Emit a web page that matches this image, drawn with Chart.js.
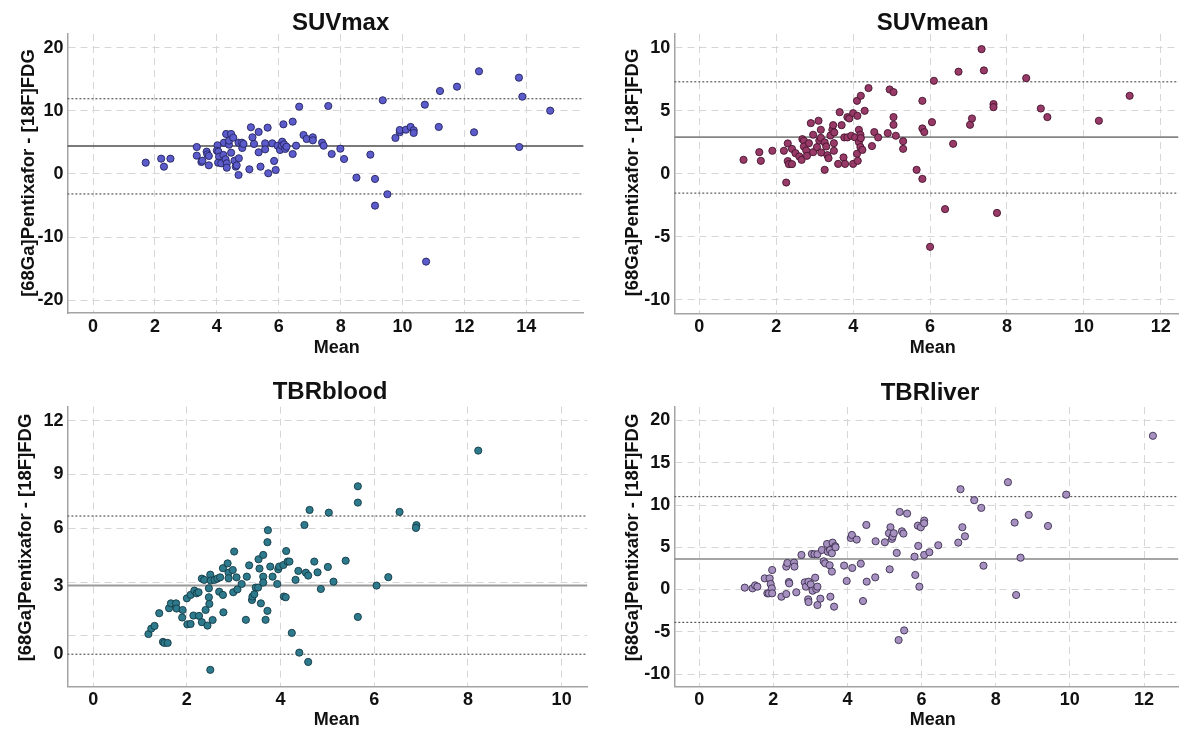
<!DOCTYPE html>
<html><head><meta charset="utf-8">
<script src="https://cdn.jsdelivr.net/npm/chart.js@4.4.1/dist/chart.umd.min.js"></script>
<style>
html,body{margin:0;padding:0;background:#fff;overflow:hidden;width:1183px;height:731px;}
canvas{position:absolute;}
</style></head><body>
<canvas id="c1" width="600" height="365" style="left:0;top:0"></canvas>
<canvas id="c2" width="583" height="365" style="left:600px;top:0"></canvas>
<canvas id="c3" width="600" height="366" style="left:0;top:365px"></canvas>
<canvas id="c4" width="583" height="366" style="left:600px;top:365px"></canvas>
<script>
// ---------- DATA ----------
const yTitleText = "[68Ga]Pentixafor - [18F]FDG";
const xTitleText = "Mean";

// SUVmax
const suvmaxMean = [1.70,2.20,2.29,2.50,3.35,3.35,3.50,3.53,3.67,3.69,3.74,3.74,4.02,4.00,4.05,4.07,4.04,4.14,4.23,4.21,4.28,4.30,4.32,4.32,4.39,4.39,4.46,4.46,4.53,4.57,4.61,4.70,4.70,4.71,4.64,4.81,4.82,4.86,5.05,5.10,5.15,5.20,5.35,5.35,5.41,5.56,5.56,5.64,5.66,5.79,5.85,5.90,5.96,6.04,6.11,6.10,6.15,6.17,6.21,6.25,6.45,6.45,6.56,6.66,6.80,6.90,7.10,7.10,7.40,7.45,7.60,7.71,7.99,8.11,8.51,8.96,9.11,9.11,9.36,9.51,9.77,9.91,9.91,10.11,10.26,10.36,10.36,10.72,10.76,11.17,11.21,11.76,12.31,12.47,13.76,13.77,13.87,14.77];
const suvmaxDiff = [1.79,2.42,1.16,2.42,4.27,2.90,1.90,2.10,3.53,3.11,2.85,1.37,4.54,3.69,3.53,2.74,1.79,1.69,4.95,3.01,2.32,6.33,1.69,1.00,4.64,5.27,6.33,3.37,5.74,2.10,1.16,4.95,-0.16,2.48,1.37,4.95,4.11,4.75,0.74,7.39,5.80,4.75,6.65,3.43,1.16,4.85,3.90,7.33,0.11,4.85,2.06,0.63,4.48,3.80,5.11,4.48,7.86,4.69,3.96,4.32,8.28,3.16,4.48,10.65,6.17,5.54,5.80,5.33,4.95,4.48,10.76,3.16,4.00,2.37,-0.58,3.06,-0.79,-5.01,11.66,-3.21,5.70,6.60,6.96,7.01,7.44,6.91,6.49,10.97,-13.87,7.44,13.13,13.81,6.60,16.25,15.24,4.27,12.23,10.02];
const suvmaxRefLines = [4.43, 11.91, -3.16];   // mean, upper LoA, lower LoA
const suvmaxXTicks = [0,2,4,6,8,10,12,14];
const suvmaxYTicks = [-20,-10,0,10,20];

// SUVmean
const suvmeanMean = [1.15,1.56,1.60,1.90,2.20,2.26,2.30,2.30,2.33,2.41,2.41,2.50,2.60,2.66,2.68,2.72,2.72,2.78,2.80,2.85,2.90,2.96,2.96,3.06,3.10,3.12,3.16,3.16,3.17,3.26,3.26,3.30,3.33,3.36,3.41,3.46,3.48,3.50,3.50,3.51,3.61,3.65,3.70,3.75,3.77,3.79,3.85,3.90,3.85,3.95,4.00,4.00,4.05,4.10,4.11,4.10,4.12,4.15,4.15,4.19,4.20,4.20,4.19,4.24,4.30,4.40,4.49,4.55,4.65,4.90,4.95,5.05,5.05,5.05,5.11,5.30,5.30,5.65,5.80,5.80,5.80,5.85,6.05,6.10,6.00,6.39,6.60,6.74,7.04,7.09,7.34,7.40,7.65,7.65,7.74,8.50,8.88,9.05,10.39,11.19];
const suvmeanDiff = [1.11,1.72,1.03,1.83,1.83,-0.69,2.41,1.01,0.77,0.77,1.98,1.64,1.38,1.11,2.75,2.62,2.17,1.85,1.43,2.43,4.02,3.10,1.72,2.12,4.21,2.64,3.49,2.86,1.69,0.32,2.49,2.17,1.48,1.24,3.04,3.49,3.86,2.43,1.83,3.28,0.79,4.89,3.86,1.30,2.89,0.79,4.50,4.39,2.89,3.02,0.79,4.81,2.89,5.79,4.60,1.59,1.03,3.49,2.51,3.10,6.19,2.83,2.12,1.90,5.00,6.80,2.20,3.31,2.89,3.23,6.69,6.48,4.50,3.89,3.02,2.59,1.98,0.32,5.79,3.60,-0.40,3.31,4.10,7.38,-5.79,-2.80,2.38,8.10,3.89,4.39,9.89,8.20,5.53,5.29,-3.10,7.59,5.18,4.50,4.21,6.19];
const suvmeanRefLines = [2.91, 7.30, -1.53];
const suvmeanXTicks = [0,2,4,6,8,10,12];
const suvmeanYTicks = [-10,-5,0,5,10];

// TBRblood
const tbrbloodMean = [1.18,1.24,1.31,1.41,1.49,1.52,1.59,1.62,1.66,1.77,1.78,1.91,1.90,2.00,2.01,2.08,2.08,2.14,2.16,2.21,2.25,2.26,2.32,2.32,2.37,2.40,2.44,2.47,2.47,2.48,2.50,2.51,2.50,2.55,2.59,2.65,2.69,2.71,2.77,2.77,2.78,2.87,2.89,2.89,2.98,2.99,3.01,3.06,3.08,3.17,3.26,3.28,3.33,3.39,3.40,3.44,3.47,3.52,3.53,3.55,3.58,3.63,3.63,3.63,3.68,3.72,3.73,3.72,3.78,3.83,3.93,3.95,3.97,4.06,4.07,4.11,4.12,4.15,4.19,4.24,4.32,4.38,4.40,4.51,4.54,4.59,4.59,4.62,4.72,4.79,4.86,5.01,5.03,5.13,5.65,5.65,6.54,6.90,6.89,8.22,5.39,6.30,5.65,6.05];
const tbrbloodDiff = [0.10,0.40,0.55,1.26,-0.34,-0.40,-0.40,1.54,1.81,1.81,1.52,1.44,1.02,2.09,0.64,0.66,2.28,1.13,2.52,2.37,2.43,1.11,0.76,3.19,3.12,1.44,0.57,2.65,2.15,1.78,3.41,3.08,-1.90,0.88,3.12,3.19,2.46,3.26,2.28,3.77,1.31,4.04,3.52,3.21,3.67,2.43,4.70,3.26,2.59,2.89,0.89,3.30,3.93,2.00,2.19,2.32,2.69,2.69,4.27,3.75,1.81,4.51,3.30,2.97,0.89,5.22,5.89,1.39,3.86,3.30,2.89,3.71,3.86,3.95,2.19,2.15,4.73,4.14,4.14,0.16,3.12,3.62,-0.94,6.18,3.52,3.36,-1.46,7.02,4.14,3.54,2.61,3.84,6.87,3.02,8.34,7.43,6.91,6.17,6.02,10.33,4.19,3.27,1.05,2.80];
const tbrbloodRefLines = [2.80, 6.68, -1.03];
const tbrbloodXTicks = [0,2,4,6,8,10];
const tbrbloodYGridTicks = [0,3,6,9,12];
const tbrbloodYLabelTicks = [-1.03,2.8,6,9,12];
const tbrbloodYLabels = ["0","3","6","9","12"];

// TBRliver
const tbrliverMean = [1.23,1.44,1.51,1.57,1.77,1.84,1.88,1.90,1.93,1.96,1.97,1.97,2.22,2.35,2.35,2.38,2.42,2.43,2.56,2.57,2.62,2.76,2.85,2.88,2.94,2.95,2.95,3.01,3.04,3.06,3.13,3.11,3.16,3.19,3.19,3.19,3.27,3.31,3.36,3.40,3.45,3.47,3.52,3.53,3.54,3.58,3.58,3.60,3.64,3.67,3.68,3.91,3.98,4.09,4.12,4.13,4.25,4.36,4.42,4.51,4.52,4.75,4.76,5.01,5.14,5.16,5.12,5.20,5.22,5.25,5.33,5.38,5.41,5.47,5.51,5.53,5.61,5.81,5.83,5.90,5.91,5.94,5.98,6.07,6.07,6.07,6.21,6.45,6.99,7.10,7.05,7.17,7.42,7.61,7.67,8.33,8.51,8.55,8.67,8.89,9.41,9.90,12.24];
const tbrliverDiff = [0.22,0.14,0.49,0.34,1.32,-0.45,-0.45,1.32,0.65,0.14,-0.45,2.31,-0.85,-0.53,2.71,3.14,0.89,0.73,3.18,2.71,-0.33,4.09,0.85,0.34,-1.16,-1.48,0.93,0.61,4.21,-0.14,1.40,4.17,0.06,-1.84,0.34,4.17,-1.08,4.68,3.34,3.10,5.39,4.48,2.87,4.68,-0.85,2.12,4.29,5.55,-2.03,5.12,5.00,2.83,1.01,6.10,6.46,2.55,5.91,3.06,-1.36,7.64,0.93,1.44,5.71,5.59,2.39,7.37,6.66,5.99,6.26,6.66,4.33,-5.98,9.18,6.89,6.62,-4.84,8.99,3.89,1.72,7.56,5.16,0.34,7.37,8.16,7.84,4.09,4.41,5.24,5.55,7.37,11.87,6.30,10.57,9.66,2.82,12.70,7.92,-0.65,3.77,8.83,7.52,11.23,18.19];
const tbrliverRefLines = [3.61, 11.0, -3.89];
const tbrliverXTicks = [0,2,4,6,8,10,12];
const tbrliverYTicks = [-10,-5,0,5,10,15,20];

// ---------- STYLE / RENDER ----------
const FONT = '"Liberation Sans", Arial, Helvetica, sans-serif';
const GRID = '#d6d6d6';
const AXIS = '#a3a3a3';
const TXT = '#111111';

const panelText = {
  id: 'panelText',
  afterDraw(chart, args, o) {
    const ctx = chart.ctx;
    ctx.save();
    ctx.fillStyle = TXT;
    ctx.textAlign = 'center';
    ctx.textBaseline = 'middle';
    ctx.font = 'bold 24px ' + FONT;
    ctx.fillText(o.title, o.titleX, o.titleY);
    ctx.font = 'bold 18px ' + FONT;
    ctx.fillText(o.xTitle, o.xTitleX, o.xTitleY);
    ctx.translate(o.yTitleX, o.yTitleY);
    ctx.rotate(-Math.PI / 2);
    ctx.font = 'bold 18.5px ' + FONT;
    ctx.fillText(o.yTitle, 0, 0);
    ctx.restore();
  }
};

function refLine(p, v, color, width, dash) {
  return { type: 'line', data: [{x: p.xMin, y: v}, {x: p.xMax, y: v}],
    borderColor: color, borderWidth: width, borderDash: dash, pointRadius: 0, fill: false };
}

function panel(id, p) {
  const yGrid = p.yGrid;
  const yLab = p.yLabelTicks;
  const allY = Array.from(new Set(yGrid.concat(yLab))).sort((a, b) => a - b);
  const tickFont = {family: FONT, size: 18, weight: 'bold'};
  new Chart(document.getElementById(id), {
    type: 'scatter',
    data: { datasets: [
      { data: p.xs.map((x, i) => ({x: x, y: p.ys[i]})), backgroundColor: p.fill, borderColor: p.edge,
        borderWidth: 0.9, pointRadius: 3.6, pointHoverRadius: 3.6, showLine: false },
      refLine(p, p.lines[0], p.meanColor, p.meanWidth, []),
      refLine(p, p.lines[1], '#5a5a5a', 1.2, [2, 2]),
      refLine(p, p.lines[2], '#5a5a5a', 1.2, [2, 2])
    ]},
    options: {
      responsive: false, animation: false, events: [],
      layout: {padding: {left: 0, top: p.top, right: p.right, bottom: 0}},
      plugins: {
        legend: {display: false}, tooltip: {enabled: false},
        panelText: {title: p.title, titleX: p.titleX, titleY: p.titleY,
          xTitle: xTitleText, xTitleX: p.xTitleX, xTitleY: p.xTitleY,
          yTitle: yTitleText, yTitleX: p.yTitleX, yTitleY: p.yTitleY}
      },
      scales: {
        x: { type: 'linear', position: 'bottom', min: p.xMin, max: p.xMax,
          afterBuildTicks: s => { s.ticks = p.xTicks.map(v => ({value: v})); },
          afterFit: s => { s.height = p.xAxisH; },
          grid: {color: GRID, lineWidth: 1, drawTicks: false},
          border: {display: true, color: AXIS, width: 1.5, dash: [7, 5]},
          ticks: {padding: 3, color: TXT, font: tickFont, autoSkip: false, maxRotation: 0, callback: v => String(v)} },
        y: { type: 'linear', position: 'left', min: p.yMin, max: p.yMax,
          afterBuildTicks: s => { s.ticks = allY.map(v => ({value: v})); },
          afterFit: s => { s.width = p.yAxisW; },
          grid: {color: c => (c.tick && yGrid.indexOf(c.tick.value) >= 0) ? GRID : 'rgba(0,0,0,0)', lineWidth: 1, drawTicks: false},
          border: {display: true, color: AXIS, width: 1.5, dash: [7, 5]},
          ticks: {padding: 4, color: TXT, font: tickFont, autoSkip: false,
            callback: v => { const k = yLab.indexOf(v); return k >= 0 ? p.yLabels[k] : ''; }} }
      }
    },
    plugins: [panelText]
  });
}

panel('c1', {
  title: 'SUVmax', xs: suvmaxMean, ys: suvmaxDiff, lines: suvmaxRefLines,
  xTicks: suvmaxXTicks, yGrid: suvmaxYTicks, yLabelTicks: suvmaxYTicks, yLabels: suvmaxYTicks.map(String),
  xMin: -0.83, xMax: 15.85, yMin: -22.0, yMax: 22.15,
  top: 34, right: 16.4, xAxisH: 52, yAxisW: 67.4,
  fill: '#5b5bcc', edge: '#25255e', meanColor: '#4e4e4e', meanWidth: 1.3,
  titleX: 340.6, titleY: 23.5, xTitleX: 336.8, xTitleY: 348.3, yTitleX: 28.7, yTitleY: 173
});
panel('c2', {
  title: 'SUVmean', xs: suvmeanMean, ys: suvmeanDiff, lines: suvmeanRefLines,
  xTicks: suvmeanXTicks, yGrid: suvmeanYTicks, yLabelTicks: suvmeanYTicks, yLabels: suvmeanYTicks.map(String),
  xMin: -0.65, xMax: 12.46, yMin: -11.06, yMax: 11.09,
  top: 34, right: 0, xAxisH: 51.7, yAxisW: 74.3,
  fill: '#983a68', edge: '#45142d', meanColor: '#858585', meanWidth: 1.8,
  titleX: 332.7, titleY: 23.5, xTitleX: 332.7, xTitleY: 348, yTitleX: 32.5, yTitleY: 172.5
});
panel('c3', {
  title: 'TBRblood', xs: tbrbloodMean, ys: tbrbloodDiff, lines: tbrbloodRefLines,
  xTicks: tbrbloodXTicks, yGrid: tbrbloodYGridTicks, yLabelTicks: tbrbloodYLabelTicks, yLabels: tbrbloodYLabels,
  xMin: -0.55, xMax: 10.55, yMin: -2.84, yMax: 12.78,
  top: 41.7, right: 12.6, xAxisH: 44.3, yAxisW: 67.4,
  fill: '#2e7a8d', edge: '#143a44', meanColor: '#9a9a9a', meanWidth: 2,
  titleX: 330, titleY: 27, xTitleX: 336.8, xTitleY: 355, yTitleX: 25.8, yTitleY: 172.5
});
panel('c4', {
  title: 'TBRliver', xs: tbrliverMean, ys: tbrliverDiff, lines: tbrliverRefLines,
  xTicks: tbrliverXTicks, yGrid: tbrliverYTicks, yLabelTicks: tbrliverYTicks, yLabels: tbrliverYTicks.map(String),
  xMin: -0.67, xMax: 12.93, yMin: -11.5, yMax: 21.6,
  top: 42, right: 0, xAxisH: 44.3, yAxisW: 74.3,
  fill: '#a690bf', edge: '#3c3050', meanColor: '#878787', meanWidth: 1.6,
  titleX: 330, titleY: 28, xTitleX: 332.7, xTitleY: 355, yTitleX: 32.5, yTitleY: 172.5
});
</script>
</body></html>
